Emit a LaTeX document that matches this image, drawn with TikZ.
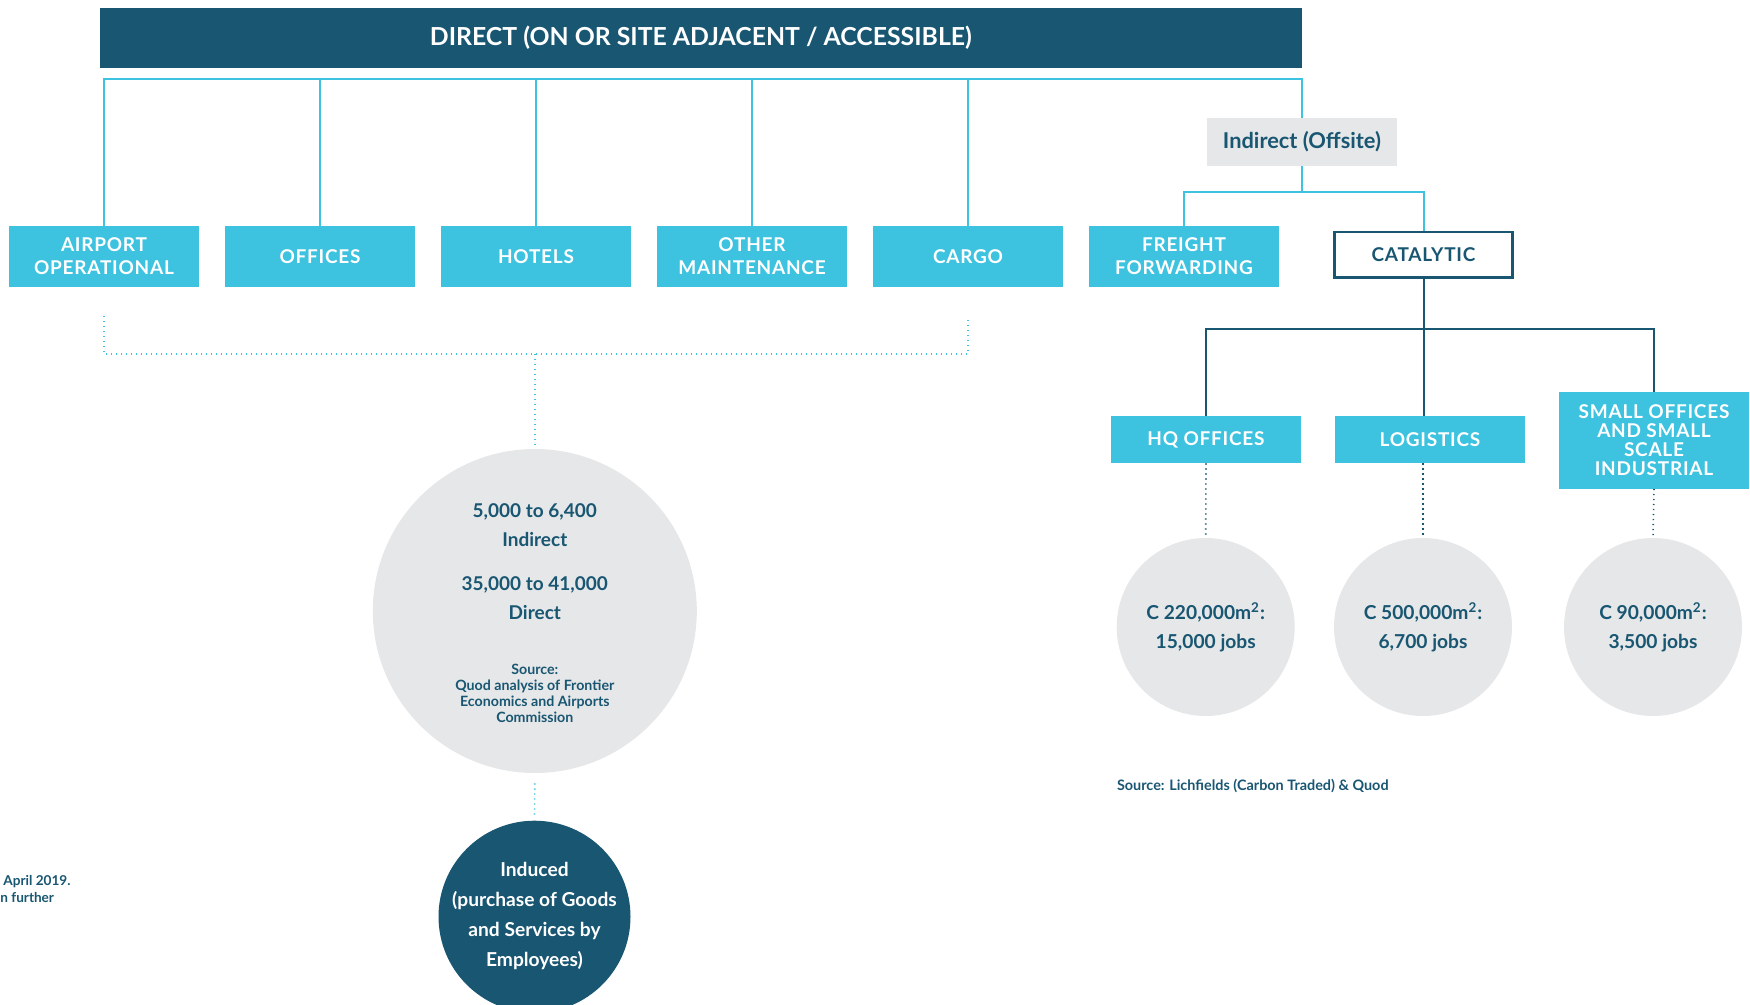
\documentclass[tikz,border=0pt]{standalone}
\usepackage{fontspec}
\setmainfont{Lato}
\newfontfamily\spacedfont[LetterSpace=4]{Lato}

\definecolor{darkblue}{RGB}{24,86,114}
\definecolor{skyblue}{RGB}{61,194,223}
\definecolor{lightgrey}{RGB}{230,231,232}

\begin{document}
\begin{tikzpicture}[x=0.5pt, y=-0.5pt,
    headbox/.style={fill=darkblue, text=white, minimum width=600.8pt, minimum height=29.9pt, inner sep=0pt,
        font=\bfseries\fontsize{12.4}{14}\selectfont},
    catbox/.style={fill=skyblue, text=white, align=center, minimum width=95pt, minimum height=30.3pt, inner sep=0pt,
        font=\spacedfont\bfseries\fontsize{9.5}{11.3}\selectfont},
    greybox/.style={fill=lightgrey, text=darkblue, minimum width=95pt, minimum height=23.9pt, inner sep=0pt,
        font=\bfseries\fontsize{10.9}{12}\selectfont},
    outlinebox/.style={draw=darkblue, line width=1.3pt, fill=white, text=darkblue, minimum width=89pt, minimum height=22.8pt,
        inner sep=0pt, font=\spacedfont\bfseries\fontsize{9.5}{11}\selectfont},
    bubble/.style={circle, fill=lightgrey, text=darkblue, align=center, inner sep=0pt,
        font=\bfseries\fontsize{9.6}{14.5}\selectfont},
    cyanline/.style={draw=skyblue, line width=1pt},
    darkline/.style={draw=darkblue, line width=1pt},
    cyandot/.style={draw=skyblue, line width=0.8pt, dash pattern=on 0.6pt off 1.9pt},
    darkdot/.style={draw=darkblue, line width=0.8pt, dash pattern=on 0.6pt off 1.9pt},
    smalltext/.style={text=darkblue, inner sep=0pt, font=\bfseries\fontsize{7.1}{8}\selectfont}]

    \useasboundingbox (0,0) rectangle (1750,1005);

    \node[headbox] (direct) at (700.8,37.8) {DIRECT (ON OR SITE ADJACENT / ACCESSIBLE)};

    \node[catbox] (airport) at (104,256.4) {AIRPORT\\OPERATIONAL};
    \node[catbox] (offices) at (320,256.4) {OFFICES};
    \node[catbox] (hotels) at (536,256.4) {HOTELS};
    \node[catbox] (maint) at (752,256.4) {OTHER\\MAINTENANCE};
    \node[catbox] (cargo) at (968,256.4) {CARGO};
    \node[catbox] (freight) at (1184,256.4) {FREIGHT\\FORWARDING};

    \node[greybox] (indirect) at (1302,141.9) {Indirect (Offsite)};
    \node[outlinebox] (catalytic) at (1423.5,254.9) {CATALYTIC};

    \node[catbox, minimum height=23.5pt] (hq) at (1206,439.5) {HQ OFFICES};
    \node[catbox, minimum height=23.5pt] (logistics) at (1430,439.5) {LOGISTICS};
    \node[catbox, minimum height=48.3pt, font=\spacedfont\bfseries\fontsize{9.5}{9.5}\selectfont] (smalloff) at (1654,440.3)
        {SMALL OFFICES\\AND SMALL\\SCALE\\INDUSTRIAL};

    % circles
    \node[bubble, minimum size=162pt] (bigcirc) at (534.8,611) {};
    \node[smalltext, align=center, font=\bfseries\fontsize{9.5}{14.5}\selectfont] (jobs) at (534.8,562)
        {5,000 to 6,400\\Indirect\\[7.5pt]35,000 to 41,000\\Direct};
    \node[smalltext, align=center] (jobsource) at (534.8,693)
        {Source:\\Quod analysis of Frontier\\Economics and Airports\\Commission};
    \node[bubble, minimum size=96pt, fill=darkblue] (induced) at (534.5,916.7) {};
    \node[smalltext, align=center, text=white, font=\bfseries\fontsize{9.6}{15}\selectfont] (inducedtext) at (534.5,916)
        {Induced\\(purchase of Goods\\and Services by\\Employees)};

    \node[bubble, minimum size=89pt] (hqcirc) at (1205.7,627) {C 220,000m\textsuperscript{2}:\\15,000 jobs};
    \node[bubble, minimum size=89pt] (logcirc) at (1423,627) {C 500,000m\textsuperscript{2}:\\6,700 jobs};
    \node[bubble, minimum size=89pt] (smallcirc) at (1653,627) {C 90,000m\textsuperscript{2}:\\3,500 jobs};

    \node[smalltext, anchor=west, font=\bfseries\fontsize{7.2}{8}\selectfont] (source) at (1116.6,785.7)
        {Source: Lichfields (Carbon Traded) \& Quod};
    \node[smalltext, anchor=west, font=\bfseries\fontsize{6.8}{8}\selectfont] (note1) at (3,881.7) {April 2019.};
    \node[smalltext, anchor=west, font=\bfseries\fontsize{6.8}{8}\selectfont] (note2) at (0,897) {n further};

    % direct tree
    \coordinate (bus) at (0,79);
    \draw[cyanline] (airport.north) -- (airport.north |- bus) -| (indirect.north);
    \foreach \b in {offices,hotels,maint,cargo}
        \draw[cyanline] (\b.north) -- (\b.north |- bus);
    \coordinate (split) at (0,192);
    \draw[cyanline] (freight.north) -- (freight.north |- split) -| (catalytic.north);
    \draw[cyanline] (indirect.south) -- (indirect.south |- split);

    % catalytic tree
    \coordinate (catbus) at (0,329);
    \draw[darkline] (hq.north) -- (hq.north |- catbus) -| (smalloff.north);
    \draw[darkline] (catalytic.south) -- (catalytic.south |- logistics.north);

    \coordinate (dotbus) at (0,354);
    \draw[cyandot, shorten <=14.5pt, shorten >=14.5pt] (airport.south) -- (airport.south |- dotbus) -| (cargo.south);
    \draw[cyandot, shorten >=2pt] (bigcirc.north |- dotbus) -- (bigcirc.north);
    \draw[cyandot, shorten <=5pt, shorten >=2pt] (bigcirc.south) -- (induced.north);

    \draw[darkdot, shorten >=0.5pt] (hq.south) -- (hqcirc.north);
    \draw[darkdot, shorten >=0.5pt] (logcirc.north |- logistics.south) -- (logcirc.north);
    \draw[darkdot, shorten >=0.5pt] (smalloff.south) -- (smallcirc.north);
  \end{tikzpicture}
\end{document}
